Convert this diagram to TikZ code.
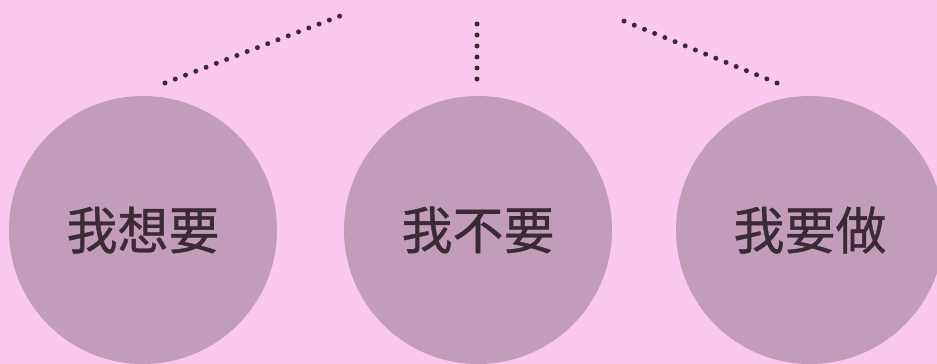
\documentclass[tikz,border=0pt]{standalone}
\usepackage{fontspec}
\newfontfamily\cjk[FakeBold=0.8]{Noto Sans CJK SC}
\usepackage{xcolor}
\usepackage{tikz}
\usetikzlibrary{positioning}
\definecolor{blush}{HTML}{FAC8EE}
\definecolor{mauve}{HTML}{C39CB9}
\definecolor{ink}{HTML}{3A2A33}
\definecolor{dotink}{HTML}{3A2A36}
\tikzset{
  wishcircle/.style={circle, fill=mauve, minimum size=268pt, inner sep=0pt, font=\cjk\fontsize{51}{51}\selectfont, text=ink},
  dotline/.style={draw=dotink, line width=5pt, line cap=round, dash pattern=on 0pt off 11pt}
}
\begin{document}
\begin{tikzpicture}[x=1pt, y=-1pt]
  \fill[blush] (0,0) rectangle (937,364);
  \clip (0,0) rectangle (937,364);
  \node[wishcircle] (want) at (143,230) {\raisebox{-3pt}{我想要}};
  \node[wishcircle] (refuse) at (478,230) {\raisebox{-3pt}{我不要}};
  \node[wishcircle] (do) at (810,230) {\raisebox{-3pt}{我要做}};
  \coordinate (wantend) at (340,16);
  \coordinate (refuseend) at (477,23);
  \coordinate (doend) at (614,17);
  \coordinate (wanttip) at (165,83);
  \coordinate (refusetip) at (477,79);
  \coordinate (dotip) at (777,83);
  \draw[dotline] (wanttip) -- (wantend);
  \draw[dotline] (refusetip) -- (refuseend);
  \draw[dotline] (dotip) -- (doend);
\end{tikzpicture}
\end{document}
